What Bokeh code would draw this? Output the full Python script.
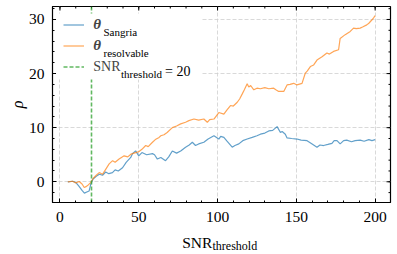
import math
from bokeh.plotting import figure
from bokeh.models import (Range1d, FixedTicker, Span, Label, Legend, LegendItem, BoxAnnotation)
from bokeh.embed import file_html
from bokeh.resources import INLINE

# ---------------- data ----------------
blue_x = [5, 8, 10, 12, 14, 15.5, 17, 18.5, 19.6, 21, 23, 25, 27, 29, 31, 33.3, 35, 37, 39.7, 42,
          44.9, 46, 48, 50, 52, 55, 58.7, 60, 61.8, 64, 67, 69, 71.3, 74, 76.6, 79.7, 82, 84, 86, 88,
          91.3, 94, 97.7, 100.8, 102, 104, 106, 109.3, 111, 113.5, 116, 118.8, 122, 125, 127.2, 130,
          132.5, 135, 137.8, 139.9, 141, 143, 144.1, 147, 150.4, 153, 156.8, 160, 163.1, 165, 167.3,
          170, 172.6, 174, 175.8, 177.8, 180, 182, 185, 187.3, 190.5, 193, 196, 198, 200]
blue_y = [0, 0.1, -0.1, -0.8, -1.6, -2.1, -1.9, -1.7, -0.4, 0.5, 1.0, 1.4, 1.2, 1.8, 1.5, 1.7, 2.2, 2.0, 2.6, 3.6,
          4.5, 5.2, 5.7, 4.8, 5.4, 5.0, 5.2, 5.0, 4.2, 4.5, 3.9, 4.6, 5.7, 5.3, 5.7, 6.4, 6.8, 7.3, 6.7, 7.0,
          7.3, 7.9, 8.5, 7.9, 8.4, 8.2, 7.5, 6.4, 6.7, 7.0, 7.6, 7.9, 8.2, 8.5, 8.8, 9.0,
          9.4, 9.5, 10.2, 9.1, 9.3, 8.8, 8.1, 8.0, 7.9, 7.7, 7.6, 7.0, 6.4, 6.8, 6.7,
          6.9, 7.1, 7.6, 7.6, 7.0, 7.6, 7.7, 7.4, 7.6, 7.7, 7.5, 7.8, 7.6, 7.8]

orange_x = [5, 8, 10, 12.2, 14, 15.4, 16.5, 17.5, 19.6, 21, 23, 24.9, 27, 29, 31.2, 33.4, 35, 37.5, 39, 40.7,
            43, 45, 48.1, 50.2, 52, 54.4, 56, 58.7, 60.5, 62.9, 64, 66, 68, 71.3, 74, 76.6, 79.7, 81.8, 85, 88,
            91.3, 93.5, 95, 97.7, 100.8, 104, 106, 108.2, 110, 112.5, 114, 115.6, 117, 118.8, 119.8, 121,
            123, 125, 127.2, 130, 132.5, 135.6, 137, 138.8, 142, 144.1, 146, 148.3, 150.4, 153.6, 155.7,
            157, 158.9, 161, 163.1, 166.3, 169.4, 171, 173.6, 176.8, 177.8, 181, 184.2, 186.3, 188, 190.5,
            192, 194.7, 196, 197.9, 199, 200]
orange_y = [0, 0.1, -0.2, 0.05, -0.4, -1.05, -0.9, -0.7, -0.1, 0.6, 1.2, 1.7, 1.4, 2.3, 3.3, 3.9, 3.6, 4.2, 4.5, 4.8,
            4.6, 5.1, 5.4, 5.6, 6.0, 6.7, 6.5, 7.3, 7.8, 8.2, 8.5, 8.7, 9.1, 10.0, 10.3, 10.7, 11.0, 11.3, 11.6, 11.4,
            11.6, 11.0, 11.5, 11.6, 12.8, 12.5, 13.3, 14.1, 14.0, 14.7, 15.3, 16.2, 17.0, 18.1, 17.5, 17.8,
            17.0, 17.3, 17.2, 17.4, 17.2, 17.3, 17.0, 16.7, 16.7, 17.9, 18.0, 18.2, 17.9, 18.2, 20.1,
            20.5, 21.3, 21.6, 22.5, 23.1, 23.8, 23.6, 24.1, 24.4, 26.5, 27.2, 27.8, 28.4, 28.3, 28.4,
            28.6, 29.0, 29.3, 29.9, 30.3, 30.7]

snr_threshold = 20
x_major = [0, 50, 100, 150, 200]
x_minor = list(range(0, 201, 10))
y_major = [0, 10, 20, 30]
y_minor = list(range(-2, 33, 2))
x_tick_labels = {0: "0", 50: "50", 100: "100", 150: "150", 200: "200"}
y_tick_labels = {0: "0", 10: "10", 20: "20", 30: "30"}
X_LO, X_HI = -4.75, 209.75
Y_LO, Y_HI = -3.83, 32.4

FONT = "Liberation Serif"
BLUE = "#1f77b4"
ORANGE = "#ff7f0e"
GREEN = "#2ca02c"

FL, FT, FR, FB = 52, 6, 390, 202   # frame edges in page pixels

p = figure(frame_width=FR - FL, frame_height=FB - FT, output_backend="svg", toolbar_location=None,
           x_range=Range1d(X_LO, X_HI), y_range=Range1d(Y_LO, Y_HI),
           min_border_left=FL, min_border_bottom=0, min_border_top=FT, min_border_right=6,
           background_fill_color="white", border_fill_color="white")
p.outline_line_color = "black"
p.outline_line_width = 1.2

tx = FixedTicker(ticks=x_major, minor_ticks=x_minor)
ty = FixedTicker(ticks=y_major, minor_ticks=y_minor)

for ax, t, lbls in ((p.xaxis[0], tx, x_tick_labels), (p.yaxis[0], ty, y_tick_labels)):
    ax.ticker = t
    ax.major_label_overrides = lbls
    ax.major_tick_in = 4
    ax.major_tick_out = 0
    ax.minor_tick_in = 2
    ax.minor_tick_out = 0
    ax.axis_line_color = "black"
    ax.major_label_text_font = FONT
    ax.major_label_text_font_size = "15.5px"
    ax.major_label_text_color = "black"
    ax.major_label_standoff = 9

yax = p.yaxis[0]
yax.major_label_standoff = 8
yax.axis_label = "ρ"
yax.axis_label_text_font = FONT
yax.axis_label_text_font_size = "16px"
yax.axis_label_text_font_style = "italic"
yax.axis_label_text_color = "black"
yax.axis_label_standoff = 0

p.xgrid.ticker = tx
p.ygrid.ticker = ty
for g in (p.xgrid[0], p.ygrid[0]):
    g.grid_line_color = "#cfcfcf"
    g.grid_line_dash = "4 2"
    g.grid_line_width = 0.8

# tick marks on the top and right edges of the frame
p.ray(x=x_major, y=[Y_HI] * len(x_major), length=4, length_units="screen", angle=-math.pi / 2,
      line_color="black", line_width=1)
p.ray(x=x_minor, y=[Y_HI] * len(x_minor), length=2, length_units="screen", angle=-math.pi / 2,
      line_color="black", line_width=1)
p.ray(x=[X_HI] * len(y_major), y=y_major, length=4, length_units="screen", angle=math.pi,
      line_color="black", line_width=1)
p.ray(x=[X_HI] * len(y_minor), y=y_minor, length=2, length_units="screen", angle=math.pi,
      line_color="black", line_width=1)

r_blue = p.line(blue_x, blue_y, line_color=BLUE, line_alpha=0.7, line_width=1.2)
r_orange = p.line(orange_x, orange_y, line_color=ORANGE, line_alpha=0.7, line_width=1.2)

span = Span(location=snr_threshold, dimension="height", line_color=GREEN, line_alpha=0.75,
            line_width=1.6, line_dash="4 2", level="glyph")
p.add_layout(span)
# legend sample for the threshold line (zero-length glyph used only by the legend)
r_green = p.line([snr_threshold, snr_threshold], [0, 0], line_color=GREEN, line_alpha=0.75,
                 line_width=1.6, line_dash="4 2")

# white legend background (data units)
p.add_layout(BoxAnnotation(left=-2.5, right=89.9, bottom=18.9, top=31.1,
                           fill_color="white", fill_alpha=1.0, line_color=None))


def sx(xi):
    return xi - FL


def sy(yi):
    return FB - yi


leg1 = Legend(items=[LegendItem(label="θ", renderers=[r_blue]),
                     LegendItem(label="θ", renderers=[r_orange])],
              location=(sx(63.3), sy(56)), glyph_width=21, glyph_height=21, label_height=21,
              label_standoff=9, spacing=0, padding=0, margin=0,
              label_text_font=FONT, label_text_font_size="15px", label_text_font_style="bold italic",
              background_fill_alpha=0, border_line_alpha=0)
leg2 = Legend(items=[LegendItem(label="SNR", renderers=[r_green])],
              location=(sx(63.3), sy(77)), glyph_width=21, glyph_height=21, label_height=21,
              label_standoff=9, spacing=0, padding=0, margin=0,
              label_text_font=FONT, label_text_font_size="14px",
              background_fill_alpha=0, border_line_alpha=0)
p.add_layout(leg1)
p.add_layout(leg2)


def frame_label(text, xi, yi, size):
    return Label(x=sx(xi), y=sy(yi), x_units="screen", y_units="screen", text=text,
                 text_font=FONT, text_font_size=f"{size}px", text_align="left",
                 text_baseline="alphabetic", text_color="black")


def canvas_label(text, xi, yi, size):
    return Label(x=xi, y=yi, x_units="canvas", y_units="canvas", text=text,
                 text_font=FONT, text_font_size=f"{size}px", text_align="left",
                 text_baseline="alphabetic", text_color="black")


# legend subscripts etc. (inside the frame)
p.add_layout(frame_label("Sangria", 103, 31.5, 11))
p.add_layout(frame_label("resolvable", 103, 52.5, 11))
p.add_layout(frame_label("threshold", 120.5, 73.5, 11))
p.add_layout(frame_label("= 20", 164.5, 71, 14))

# x-axis label: kept in the side panel under the axis (so it is not clipped to the frame),
# positioned in canvas pixels
p.add_layout(canvas_label("SNR", 181.7, 242.3, 15.5), "below")
p.add_layout(canvas_label("threshold", 212, 245.5, 12), "below")

open("out.html", "w").write(file_html(p, INLINE))
